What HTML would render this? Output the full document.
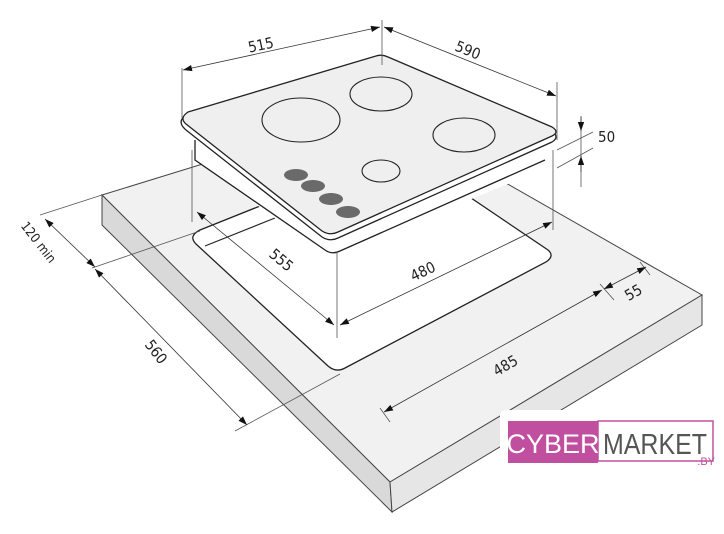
<!DOCTYPE html>
<html><head><meta charset="utf-8"><style>
html,body{margin:0;padding:0;background:#fff;width:724px;height:534px;overflow:hidden}
svg{display:block}
text{font-family:"Liberation Sans Narrow","DejaVu Sans Condensed","Liberation Sans",sans-serif;fill:#222}
</style></head><body>
<svg width="724" height="534" viewBox="0 0 724 534" xmlns="http://www.w3.org/2000/svg">
<defs>
<marker id="a" viewBox="0 0 10 10" refX="10" refY="5" markerWidth="9" markerHeight="9" orient="auto-start-reverse" markerUnits="userSpaceOnUse"><path d="M0,1.5 L10,5 L0,8.5 z" fill="#111"/></marker>
</defs>
<polygon points="102,195 378,110 702,295 390,482" fill="#f1f1f1" stroke="#444" stroke-width="1"/>
<polygon points="102,195 390,482 392,512 102,225" fill="#d9d9d9" stroke="#444" stroke-width="1"/>
<polygon points="390,482 702,295 702,325 392,512" fill="#e6e6e6" stroke="#444" stroke-width="1"/>
<path d="M200,230 L400,150 L548,250 Q555,256 546,262 L345,368 Q336,373 328,366 L196,244 Q188,236 200,230 Z" fill="#fff" stroke="#222" stroke-width="1.3"/>
<path d="M205,246 L275,218" stroke="#222" stroke-width="1.2"/>
<polygon points="195,138 382,82 553,150 553,165 330,258 195,160" fill="#fff" stroke="none"/>
<path d="M195,140 L195,160 L325,250 Q332,255 340,251 L545,160" fill="none" stroke="#222" stroke-width="1.3"/>
<path d="M188,114 L376,60 Q382,58 388,61 L552,131 Q560,137 552,142 L338,238 Q330,242 322,237 L186,130 Q179,124 182,119 Z" fill="#fff" stroke="#222" stroke-width="1.3"/>
<path d="M188,112 L376,56 Q382,54 388,57 L552,127 Q560,132 552,136 L338,232 Q330,236 322,231 L186,124 Q179,118 188,112 Z" fill="#efefef" stroke="#222" stroke-width="1.3"/>
<ellipse cx="301" cy="120" rx="39" ry="22" fill="none" stroke="#222" stroke-width="1.1"/>
<ellipse cx="381" cy="94" rx="31" ry="17" fill="none" stroke="#222" stroke-width="1.1"/>
<ellipse cx="464" cy="135" rx="31" ry="17" fill="none" stroke="#222" stroke-width="1.1"/>
<ellipse cx="381" cy="171" rx="19" ry="11" fill="none" stroke="#222" stroke-width="1.1"/>
<ellipse cx="296" cy="175" rx="12" ry="6" fill="#6a6a6a"/>
<ellipse cx="313" cy="186" rx="12" ry="6" fill="#6a6a6a"/>
<ellipse cx="331" cy="199" rx="12" ry="6" fill="#6a6a6a"/>
<ellipse cx="348" cy="212" rx="12" ry="6" fill="#6a6a6a"/>
<g stroke="#555" stroke-width="0.8" fill="none">
<path d="M182,68 L182,118"/><path d="M382,20 L382,65"/><path d="M557,82 L557,140"/>
<path d="M581,116 L581,187"/><path d="M557,150 L593,132"/><path d="M557,168 L593,148"/>
<path d="M192,150 L192,222"/><path d="M337,252 L337,338"/><path d="M553,150 L553,230"/>
<path d="M40,215 L102,195"/><path d="M92,268 L200,231"/>
<path d="M235,431 L340,374"/><path d="M380,408 L390,422"/>
<path d="M600,284 L614,300"/><path d="M640,262 L650,275"/>
</g>
<g stroke="#333" stroke-width="0.8" fill="none" marker-start="url(#a)" marker-end="url(#a)">
<path d="M183,70 L380,27"/>
<path d="M384,27 L556,96"/>
<path d="M45,219 L95,267"/>
<path d="M95,269 L247,425"/>
<path d="M197,212 L334,325"/>
<path d="M340,325 L552,222"/>
<path d="M384,412 L602,290"/>
<path d="M604,289 L646,267"/>
</g>
<g stroke="#333" stroke-width="0.8" fill="none">
<path d="M581,117 L581,131" marker-end="url(#a)"/>
<path d="M581,172 L581,156" marker-end="url(#a)"/>
</g>
<g font-size="15">
<text x="262" y="50" transform="rotate(-12 262 50)" text-anchor="middle">515</text>
<text x="466" y="55" transform="rotate(22 466 55)" text-anchor="middle">590</text>
<text x="598" y="142">50</text>
<text x="35" y="245" transform="rotate(52 35 245)" text-anchor="middle" font-size="13">120 min</text>
<text x="152" y="355" transform="rotate(52 152 355)" text-anchor="middle">560</text>
<text x="278" y="264" transform="rotate(40 278 264)" text-anchor="middle">555</text>
<text x="425" y="276" transform="rotate(-25 425 276)" text-anchor="middle">480</text>
<text x="508" y="370" transform="rotate(-30 508 370)" text-anchor="middle">485</text>
<text x="636" y="297" transform="rotate(-30 636 297)" text-anchor="middle">55</text>
</g>
<rect x="500" y="410" width="220" height="58" rx="6" fill="#fff"/>
<rect x="508" y="421" width="90" height="42" fill="#c0509f"/>
<rect x="598" y="421" width="115" height="40" fill="#fff" stroke="#c0509f" stroke-width="1.5"/>
<text x="553" y="453" text-anchor="middle" font-size="27" style="fill:#fff;font-family:'Liberation Sans',sans-serif">CYBER</text>
<text x="655" y="454" text-anchor="middle" font-size="29" textLength="104" lengthAdjust="spacingAndGlyphs" style="fill:#555;font-family:'Liberation Sans',sans-serif">MARKET</text>
<text x="715" y="465" text-anchor="end" font-size="11" style="fill:#c0509f;font-family:'Liberation Sans',sans-serif">.BY</text>
</svg>
</body></html>
